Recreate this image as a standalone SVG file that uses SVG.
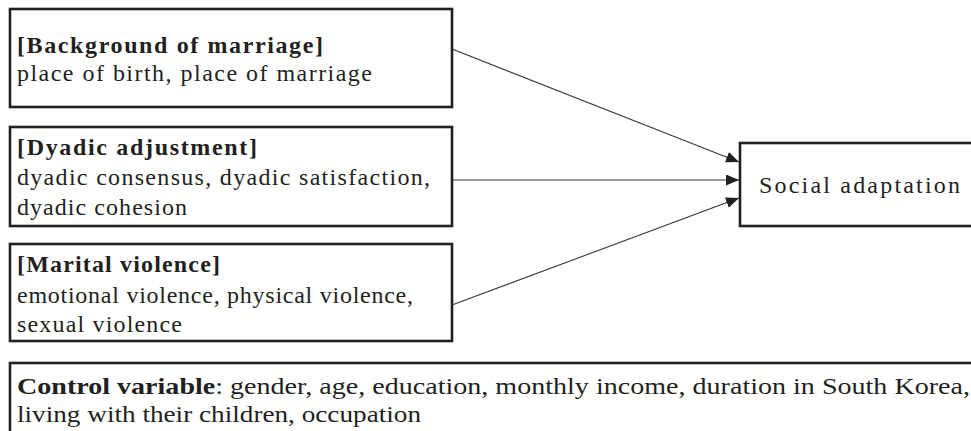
<svg xmlns="http://www.w3.org/2000/svg" width="971" height="431" viewBox="0 0 971 431">
<style>
  .box { fill: #ffffff; stroke: #231f20; stroke-width: 2.6; }
  .t { font-family: "Liberation Serif", "Times New Roman", serif; font-size: 24px; fill: #231f20; }
  .b { font-weight: bold; }
  .conn { stroke: #3a3536; stroke-width: 1.1; fill: none; }
</style>
<defs>
  <marker id="arr" viewBox="0 0 13 11" refX="13" refY="5.5" markerWidth="13" markerHeight="11" markerUnits="userSpaceOnUse" orient="auto">
    <path d="M0,0 L13,5.5 L0,11 Z" fill="#231f20"/>
  </marker>
</defs>
<rect width="971" height="431" fill="#ffffff"/>
<g id="background-of-marriage">
  <rect class="box" x="10" y="9" width="442" height="98"/>
  <text class="t b" x="17" y="53" textLength="306" lengthAdjust="spacing">[Background of marriage]</text>
  <text class="t" x="17" y="81" textLength="355" lengthAdjust="spacing">place of birth, place of marriage</text>
</g>
<g id="dyadic-adjustment">
  <rect class="box" x="10" y="127" width="442" height="99"/>
  <text class="t b" x="17" y="155" textLength="240" lengthAdjust="spacing">[Dyadic adjustment]</text>
  <text class="t" x="17" y="185" textLength="413" lengthAdjust="spacing">dyadic consensus, dyadic satisfaction,</text>
  <text class="t" x="17" y="215" textLength="170" lengthAdjust="spacing">dyadic cohesion</text>
</g>
<g id="marital-violence">
  <rect class="box" x="10" y="244" width="442" height="97"/>
  <text class="t b" x="17" y="272" textLength="203" lengthAdjust="spacing">[Marital violence]</text>
  <text class="t" x="17" y="303" textLength="396" lengthAdjust="spacing">emotional violence, physical violence,</text>
  <text class="t" x="17" y="332" textLength="165" lengthAdjust="spacing">sexual violence</text>
</g>
<g id="social-adaptation">
  <rect class="box" x="740" y="143" width="250" height="83"/>
  <text class="t" x="759" y="193" textLength="201" lengthAdjust="spacing">Social adaptation</text>
</g>
<g id="control-variable">
  <rect class="box" x="10" y="363" width="980" height="90"/>
  <text class="t" x="17" y="394" textLength="953" lengthAdjust="spacingAndGlyphs"><tspan class="b">Control variable</tspan>: gender, age, education, monthly income, duration in South Korea,</text>
  <text class="t" x="17" y="422" textLength="404" lengthAdjust="spacingAndGlyphs">living with their children, occupation</text>
</g>
<g id="connectors">
  <line class="conn" x1="452" y1="49" x2="739" y2="162" marker-end="url(#arr)"/>
  <line class="conn" x1="452" y1="180" x2="739" y2="180" marker-end="url(#arr)"/>
  <line class="conn" x1="452" y1="305" x2="739" y2="198" marker-end="url(#arr)"/>
</g>
</svg>
